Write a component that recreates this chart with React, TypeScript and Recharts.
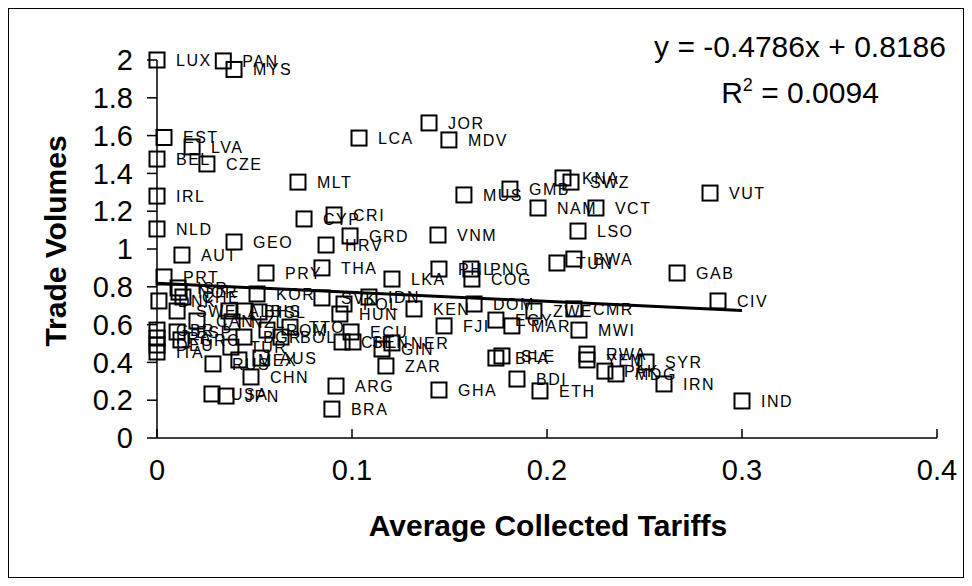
import React from 'react';
import { ScatterChart, Scatter, XAxis, YAxis, ReferenceLine } from 'recharts';

const countryCodes = [
  'LUX','PAN','MYS','EST','LVA','BEL','CZE','LCA','JOR','MDV',
  'MLT','IRL','NLD','CYP','CRI','GRD','HRV','GEO','AUT','THA',
  'PRY','PRT','MUS','GMB','KNA','SWZ','NAM','VCT','VNM','LSO',
  'PHL','PNG','COG','TUN','BWA','LKA','VUT','GAB','CIV','IND',
  'KEN','DOM','FJI','EGY','ZWE','CMR','MAR','MWI','RWA','YEM',
  'SYR','PAK','MDG','IRN','ETH','BDI','SLE','BFA','ECU','ZAR',
  'ARG','BRA','GHA','CHN','USA','JPN','ISR','NOR','CHE','DNK',
  'SWE','KOR','SVK','POL','IDN','HUN','TTO','GBR','FRA','DEU',
  'ITA','ESP','GRC','CAN','NZL','ALB','BHS','ISL','ROM','BGR',
  'BOL','TUR','RUS','MEX','AUS','CHL','SEN','NER','GIN'
];

const tariffValues = [
  0, 0.034, 0.0395, 0.0036, 0.018, 0, 0.0256, 0.1036, 0.1395, 0.1497,
  0.0723, 0, 0, 0.0754, 0.0908, 0.099, 0.0867, 0.0395, 0.0128, 0.0846,
  0.0559, 0.0036, 0.1574, 0.181, 0.2082, 0.2123, 0.1954, 0.2251, 0.1441, 0.2159,
  0.1446, 0.161, 0.1615, 0.2051, 0.2138, 0.1205, 0.2836, 0.2667, 0.2877, 0.3,
  0.1318, 0.1626, 0.1472, 0.1738, 0.1933, 0.2138, 0.182, 0.2164, 0.2205, 0.2205,
  0.2508, 0.2297, 0.2354, 0.26, 0.1964, 0.1846, 0.1769, 0.1738, 0.0995, 0.1174,
  0.0918, 0.0897, 0.1446, 0.0482, 0.0282, 0.0354, 0.0108, 0.0113, 0.0133, 0.001,
  0.0103, 0.0513, 0.0846, 0.0959, 0.1087, 0.0938, 0.0682, 0, 0, 0,
  0, 0.0103, 0.0123, 0.0205, 0.0385, 0.0369, 0.0451, 0.0523, 0.0564, 0.0446,
  0.0636, 0.0379, 0.0287, 0.042, 0.0533, 0.0949, 0.1005, 0.1205, 0.1154
];

const volumeValues = [
  2.0, 1.995, 1.95, 1.59, 1.54, 1.476, 1.45, 1.587, 1.667, 1.577,
  1.354, 1.28, 1.106, 1.159, 1.18, 1.069, 1.021, 1.037, 0.968, 0.9,
  0.873, 0.852, 1.286, 1.317, 1.376, 1.354, 1.217, 1.217, 1.074, 1.095,
  0.894, 0.894, 0.841, 0.926, 0.947, 0.841, 1.296, 0.873, 0.725, 0.196,
  0.683, 0.709, 0.593, 0.624, 0.672, 0.683, 0.593, 0.571, 0.444, 0.413,
  0.402, 0.354, 0.339, 0.286, 0.249, 0.312, 0.434, 0.423, 0.561, 0.381,
  0.275, 0.153, 0.254, 0.323, 0.233, 0.222, 0.794, 0.772, 0.746, 0.725,
  0.672, 0.762, 0.741, 0.709, 0.746, 0.656, 0.587, 0.571, 0.529, 0.492,
  0.455, 0.561, 0.519, 0.619, 0.614, 0.672, 0.672, 0.667, 0.571, 0.534,
  0.534, 0.481, 0.392, 0.413, 0.423, 0.508, 0.508, 0.503, 0.471
];

const xTicks = [0, 0.1, 0.2, 0.3, 0.4];
const yTicks = [0, 0.2, 0.4, 0.6, 0.8, 1, 1.2, 1.4, 1.6, 1.8, 2];
const trendStart = { x: 0, y: 0.8186 };
const trendEnd = { x: 0.3, y: 0.6750 };
const equationText = 'y = -0.4786x + 0.8186';
const r2Value = '0.0094';

const data = countryCodes.map((name, i) => ({ name, x: tariffValues[i], y: volumeValues[i] }));

const FONT = '"Liberation Sans", Arial, sans-serif';
const fmt = (v: number) => String(Math.round(v * 10) / 10);

const XTick = (props: any) => {
  const { x, y, payload } = props;
  return (
    <g>
      <line x1={x} x2={x} y1={y} y2={y - 9} stroke="#000" strokeWidth={1.5} />
      <text x={x} y={y + 32} dy="0.35em" textAnchor="middle" fontSize={29} fill="#000" fontFamily={FONT}>
        {fmt(payload.value)}
      </text>
    </g>
  );
};

const SquareShape = (props: any) => {
  const { cx, cy, payload } = props;
  if (cx == null || cy == null) return null;
  return (
    <g>
      <rect x={cx - 7.5} y={cy - 7.5} width={15} height={15} fill="none" stroke="#000" strokeWidth={2} />
      <text x={cx + 19} y={cy} dy="0.35em" fontSize={16} letterSpacing={1.5} fill="#000" fontFamily={FONT}>
        {payload.name}
      </text>
    </g>
  );
};

export default function App() {
  return (
    <div style={{ position: 'relative', width: 954, height: 568, border: '1px solid #000', fontFamily: FONT, background: '#fff' }}>
      <ScatterChart width={954} height={568} margin={{ top: 51, right: 26, bottom: 39, left: 0 }}>
        <XAxis
          type="number"
          dataKey="x"
          domain={[0, 0.4]}
          ticks={xTicks}
          interval={0}
          height={100}
          axisLine={{ stroke: '#000', strokeWidth: 1.5 }}
          tickLine={false}
          tickSize={0}
          tickMargin={0}
          tick={<XTick />}
        />
        <YAxis
          type="number"
          dataKey="y"
          domain={[0, 2]}
          ticks={yTicks}
          interval={0}
          width={148}
          axisLine={{ stroke: '#000', strokeWidth: 1.5 }}
          tickLine={{ stroke: '#000', strokeWidth: 1.5 }}
          tickSize={10}
          tickMargin={14}
          tickFormatter={fmt}
          tick={{ fill: '#000', fontSize: 29, fontFamily: FONT }}
        />
        <Scatter data={data} shape={<SquareShape />} isAnimationActive={false} />
        <ReferenceLine segment={[trendStart, trendEnd]} stroke="#000" strokeWidth={3} ifOverflow="visible" />
      </ScatterChart>
      <svg width={954} height={568} style={{ position: 'absolute', left: 0, top: 0, pointerEvents: 'none' }}>
        <text x={46} y={232} transform="rotate(-90 46 232)" textAnchor="middle" dy="0.35em" fontSize={30} fontWeight="bold" fill="#000" fontFamily={FONT}>
          Trade Volumes
        </text>
        <text x={539} y={516} textAnchor="middle" dy="0.35em" fontSize={30} fontWeight="bold" fill="#000" fontFamily={FONT}>
          Average Collected Tariffs
        </text>
        <text x={791} y={48} textAnchor="middle" fontSize={30} fill="#000" fontFamily={FONT}>
          {equationText}
        </text>
        <text x={791} y={94} textAnchor="middle" fontSize={30} fill="#000" fontFamily={FONT}>
          R<tspan dy={-12} fontSize={18}>2</tspan><tspan dy={12}> = {r2Value}</tspan>
        </text>
      </svg>
    </div>
  );
}
